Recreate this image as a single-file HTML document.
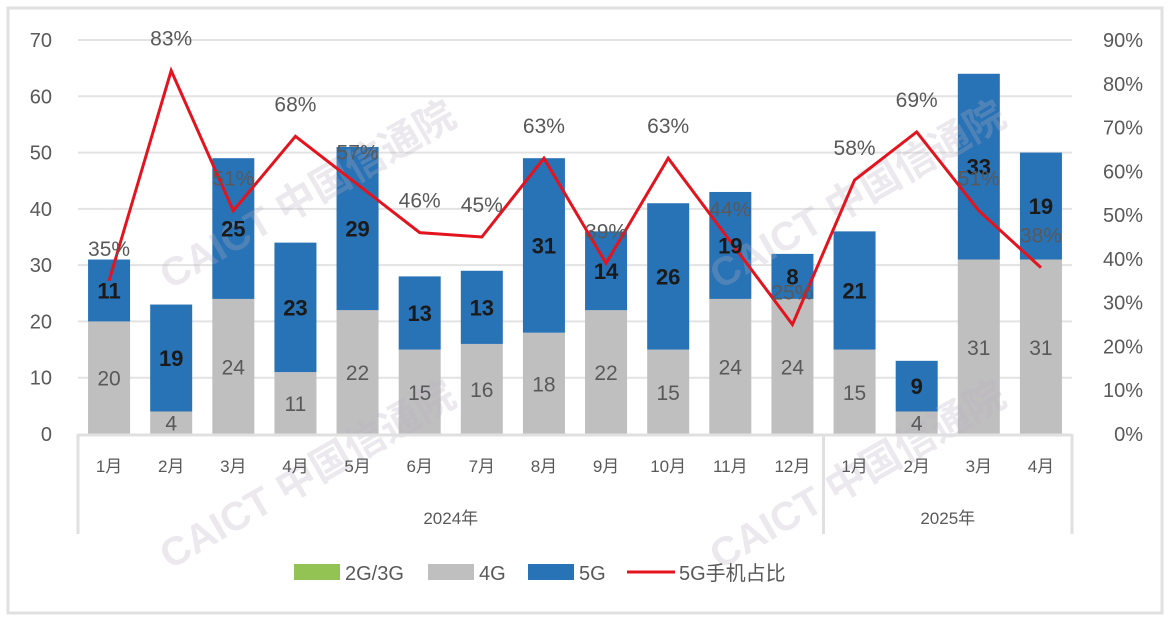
<!DOCTYPE html>
<html><head><meta charset="utf-8"><style>
html,body{margin:0;padding:0;background:#fff}
svg text{font-family:"Liberation Sans","Noto Sans CJK SC",sans-serif}
</style></head><body>
<svg id="chart" width="1172" height="621" viewBox="0 0 1172 621" xmlns="http://www.w3.org/2000/svg">
<rect x="8" y="8" width="1154" height="605" fill="#fff" stroke="#e0e0e0" stroke-width="3"/>
<g id="grid"></g><g id="bars"></g><g id="wm"></g><g id="line"></g><g id="labels"></g><g id="axes"></g><g id="legend"></g>
</svg>
<script>
const months=["1月","2月","3月","4月","5月","6月","7月","8月","9月","10月","11月","12月","1月","2月","3月","4月"];
const years=["2024年","2025年"];
const yearCounts=[12,4];
const g23=[0,0,0,0,0,0,0,0,0,0,0,0,0,0,0,0];
const g4=[20,4,24,11,22,15,16,18,22,15,24,24,15,4,31,31];
const g5=[11,19,25,23,29,13,13,31,14,26,19,8,21,9,33,19];
const share=[35,83,51,68,57,46,45,63,39,63,44,25,58,69,51,38];
const leftTicks=[0,10,20,30,40,50,60,70];
const rightTicks=[0,10,20,30,40,50,60,70,80,90];

const NS="http://www.w3.org/2000/svg";
const X0=78,X1=1072,Y0=434,Y1=40,BW=42;
const step=(X1-X0)/months.length;
const xc=i=>X0+step*(i+0.5);
const yL=v=>Y0-(Y0-Y1)*v/70;
const yR=v=>Y0-(Y0-Y1)*v/90;
function mk(tag,attrs,parent,txt){const e=document.createElementNS(NS,tag);for(const k in attrs)e.setAttribute(k,attrs[k]);if(txt!==undefined)e.textContent=txt;document.getElementById(parent).appendChild(e);return e;}

leftTicks.forEach(t=>{
  if(t>0){const l=mk('line',{x1:X0,x2:X1,y1:yL(t),y2:yL(t),stroke:'#e3e3e3','stroke-width':2},'grid');
  
  }
  const tx=mk('text',{x:52,y:yL(t)+7,'text-anchor':'end','font-size':20,fill:'#595959'},'axes',t);
  
  
});
rightTicks.forEach(t=>{
  const tx=mk('text',{x:1143,y:yR(t)+7,'text-anchor':'end','font-size':20,fill:'#595959'},'axes',t+'%');
  
  
});
let ax=mk('line',{x1:X0,x2:X1,y1:Y0+1,y2:Y0+1,stroke:'#e0e0e0','stroke-width':3},'axes');


let acc=0;
[0].concat(yearCounts.map(c=>acc+=c)).forEach(k=>{
  const x=X0+step*k;
  const l=mk('line',{x1:x,x2:x,y1:Y0,y2:534,stroke:'#e0e0e0','stroke-width':3},'axes');
  
  
});
acc=0;
years.forEach((y,j)=>{
  const mid=X0+step*(acc+yearCounts[j]/2);acc+=yearCounts[j];
  const t=mk('text',{x:mid,y:524,'text-anchor':'middle','font-size':17,fill:'#595959'},'axes',y);
  
  
});
months.forEach((m,i)=>{
  const t=mk('text',{x:xc(i),y:472,'text-anchor':'middle','font-size':17,fill:'#595959'},'axes',m);
  
  
  let b=g23[i];
  const r0=mk('rect',{x:xc(i)-BW/2,y:yL(b),width:BW,height:Y0-yL(b),fill:'#92c353'},'bars');
  
  
  const r1=mk('rect',{x:xc(i)-BW/2,y:yL(b+g4[i]),width:BW,height:yL(b)-yL(b+g4[i]),fill:'#bfbfbf'},'bars');
  
  
  const top=b+g4[i]+g5[i];
  const r2=mk('rect',{x:xc(i)-BW/2,y:yL(top),width:BW,height:yL(b+g4[i])-yL(top),fill:'#2872b6'},'bars');
  
  
  const l4=mk('text',{x:xc(i),y:(yL(b)+yL(b+g4[i]))/2+8,'text-anchor':'middle','font-size':21,fill:'#595959'},'labels',g4[i]);
  
  
  const l5=mk('text',{x:xc(i),y:(yL(b+g4[i])+yL(top))/2+8,'text-anchor':'middle','font-size':22,'font-weight':'bold',fill:'#1a1a1a'},'labels',g5[i]);
  
  
  const ls=mk('text',{x:xc(i),y:yR(share[i])-25,'text-anchor':'middle','font-size':21,fill:'#595959'},'labels',share[i]+'%');
  
  
});
const pl=mk('polyline',{points:share.map((v,i)=>xc(i)+','+yR(v)).join(' '),fill:'none',stroke:'#e3141e','stroke-width':3,'stroke-linejoin':'miter'},'line');


[[170,290],[170,570],[720,290],[720,570]].forEach(p=>{
  const w=mk('text',{x:p[0],y:p[1],'font-size':40,'font-weight':'bold',fill:'#b8b0c0','fill-opacity':0.28,transform:`rotate(-30 ${p[0]} ${p[1]})`},'wm','CAICT 中国信通院');
  
  
});
const leg=[['rect','#92c353','2G/3G',294],['rect','#bfbfbf','4G',428],['rect','#2872b6','5G',528],['line','#e3141e','5G手机占比',627]];
leg.forEach(l=>{
  let s;
  if(l[0]==='rect') s=mk('rect',{x:l[3],y:564,width:46,height:16,fill:l[1]},'legend');
  else s=mk('line',{x1:l[3],x2:l[3]+48,y1:572,y2:572,stroke:l[1],'stroke-width':3},'legend');
  
  
  const t=mk('text',{x:l[3]+(l[0]==='rect'?51:52),y:580,'font-size':20,fill:'#595959'},'legend',l[2]);
  
  
});
</script>
</body></html>
